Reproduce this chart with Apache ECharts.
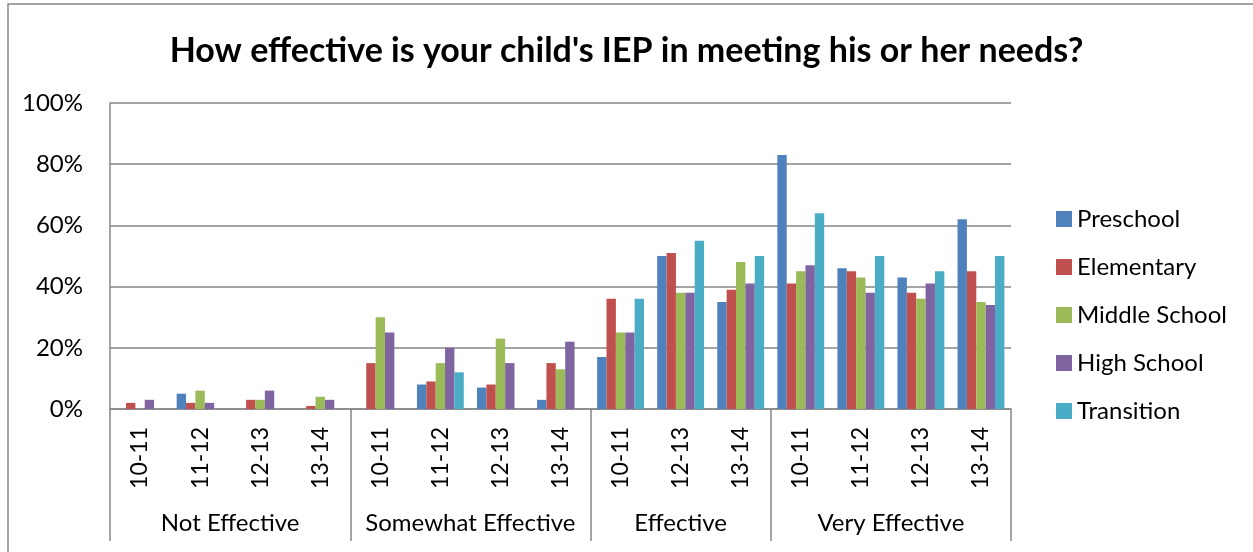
<!DOCTYPE html>
<html>
<head>
<meta charset="utf-8">
<script src="https://cdn.jsdelivr.net/npm/echarts@6/dist/echarts.min.js"></script>
<style>
    html, body { margin: 0; padding: 0; background: #fff; }
    #chart { width: 1253px; height: 552px; }
</style>
</head>
<body>
<div id="chart"></div>
<script>
// chart data
var groups = ['Not Effective', 'Somewhat Effective', 'Effective', 'Very Effective'];
var groupYears = [
    ['10-11', '11-12', '12-13', '13-14'],
    ['10-11', '11-12', '12-13', '13-14'],
    ['10-11', '12-13', '13-14'],
    ['10-11', '11-12', '12-13', '13-14']
];
var seriesNames = ['Preschool', 'Elementary', 'Middle School', 'High School', 'Transition'];
var preschool    = [0, 5, 0, 0,   0, 8, 7, 3,   17, 50, 35,   83, 46, 43, 62];
var elementary   = [2, 2, 3, 1,   15, 9, 8, 15,  36, 51, 39,   41, 45, 38, 45];
var middleSchool = [0, 6, 3, 4,   30, 15, 23, 13, 25, 38, 48,  45, 43, 36, 35];
var highSchool   = [3, 2, 6, 3,   25, 20, 15, 22, 25, 38, 41,  47, 38, 41, 34];
var transition   = [0, 0, 0, 0,   0, 12, 0, 0,  36, 55, 50,   64, 50, 45, 50];
var yTicks = [0, 20, 40, 60, 80, 100];

var colors = ['#4F81BD', '#C0504D', '#9BBB59', '#8064A2', '#4BACC6'];
var gray = '#868686';
var font = 'Lato';

function buildCategories() {
    var cats = [];
    groupYears.forEach(function (years) {
        years.forEach(function (y) { cats.push(y); });
    });
    return cats;
}

// half-slot axis used for the group labels and the group separators
function buildGroupAxis() {
    var slots = [];
    var ticks = {};
    var labels = {};
    var pos = 0;
    ticks[0] = true;
    groupYears.forEach(function (years, i) {
        labels[pos + years.length] = groups[i];
        pos += years.length * 2;
        ticks[pos] = true;
    });
    for (var k = 0; k <= pos; k++) {
        slots.push(labels[k] || '');
    }
    return {data: slots, ticks: ticks};
}

function drawChart() {
    var myChart = echarts.init(document.getElementById('chart'));
    var groupAxis = buildGroupAxis();
    var values = [preschool, elementary, middleSchool, highSchool, transition];
    var series = seriesNames.map(function (name, i) {
        return {
            name: name,
            type: 'bar',
            xAxisIndex: 0,
            barGap: 0,
            barCategoryGap: '22%',
            itemStyle: {color: colors[i]},
            data: values[i]
        };
    });

    var option = {
        animation: false,
        textStyle: {fontFamily: font},
        title: {
            text: "How effective is your child's IEP in meeting his or her needs?",
            left: 'center',
            top: 29,
            textStyle: {
                fontFamily: font,
                fontSize: 34,
                fontWeight: 'bold',
                color: '#000'
            }
        },
        legend: {
            orient: 'vertical',
            left: 1051,
            top: 202,
            icon: 'rect',
            itemWidth: 16,
            itemHeight: 16,
            itemGap: 24,
            data: seriesNames,
            textStyle: {
                fontFamily: font,
                fontSize: 24,
                lineHeight: 24,
                color: '#000'
            }
        },
        grid: {
            left: 110,
            right: 242,
            top: 103,
            bottom: 143
        },
        graphic: [
            {
                type: 'rect',
                shape: {x: 8, y: 4, width: 1300, height: 600},
                style: {fill: 'none', stroke: gray, lineWidth: 1.5},
                silent: true
            }
        ],
        xAxis: [
            {
                type: 'category',
                data: buildCategories(),
                axisLine: {lineStyle: {color: gray, width: 1.5}},
                axisTick: {show: false},
                axisLabel: {
                    rotate: 90,
                    margin: 18,
                    interval: 0,
                    fontSize: 23,
                    fontFamily: font,
                    color: '#000'
                }
            },
            {
                type: 'category',
                position: 'bottom',
                boundaryGap: false,
                data: groupAxis.data,
                axisLine: {show: false},
                axisTick: {
                    show: true,
                    length: 132,
                    interval: function (idx) { return !!groupAxis.ticks[idx]; },
                    lineStyle: {color: gray, width: 1.5}
                },
                axisLabel: {
                    interval: 0,
                    margin: 102,
                    fontSize: 24,
                    fontFamily: font,
                    color: '#000'
                }
            }
        ],
        yAxis: {
            type: 'value',
            min: yTicks[0],
            max: yTicks[yTicks.length - 1],
            interval: 20,
            axisLine: {show: true, lineStyle: {color: gray, width: 1.5}},
            axisTick: {show: false},
            splitLine: {lineStyle: {color: gray, width: 1.5}},
            axisLabel: {
                formatter: '{value}%',
                margin: 27,
                fontSize: 24,
                fontFamily: font,
                color: '#000'
            }
        },
        series: series
    };

    myChart.setOption(option);
}

drawChart();
</script>
</body>
</html>
